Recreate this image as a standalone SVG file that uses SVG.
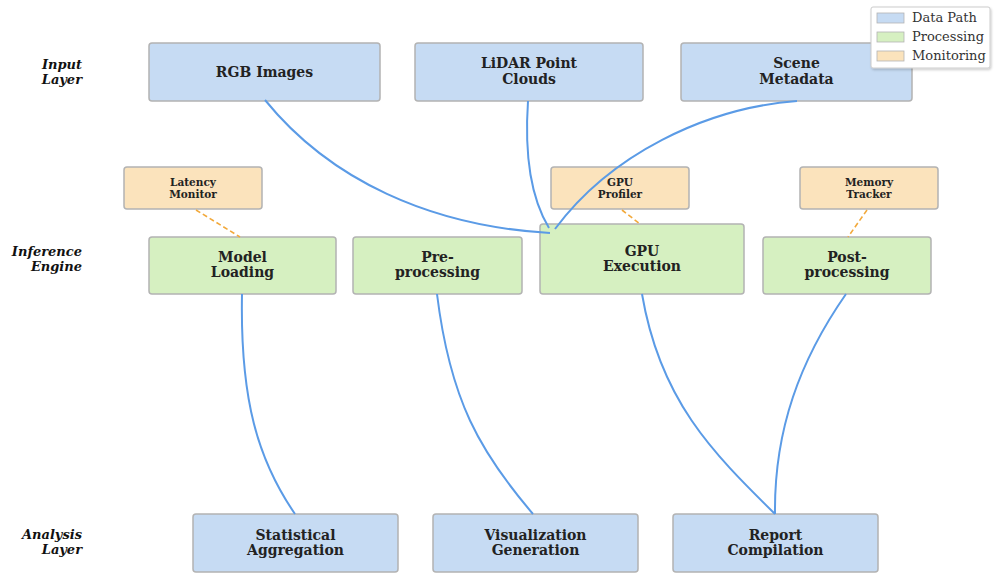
<svg xmlns="http://www.w3.org/2000/svg" width="997" height="573" viewBox="0 0 997 573">
<defs>
<style>
.bg{fill:#ffffff}
.box{stroke:#b3b3b3;stroke-width:1.5}
.data{fill:#c6dbf3}
.proc{fill:#d6f0c1}
.mon{fill:#fbe3bc}
.t{font-family:"DejaVu Serif","Liberation Serif",serif;font-weight:bold;font-size:14px;fill:#222;text-anchor:middle}
.ts{font-family:"DejaVu Serif","Liberation Serif",serif;font-weight:bold;font-size:10.5px;fill:#222;text-anchor:middle}
.lay{font-family:"DejaVu Serif","Liberation Serif",serif;font-weight:bold;font-style:italic;font-size:13px;fill:#111;text-anchor:end}
.leg{font-family:"DejaVu Serif","Liberation Serif",serif;font-size:13px;fill:#333}
.flow{fill:none;stroke:#5b9be6;stroke-width:2}
.dash{fill:none;stroke:#f2a93b;stroke-width:1.6;stroke-dasharray:5,3}
</style>
<filter id="sh" x="-10%" y="-10%" width="130%" height="140%"><feDropShadow dx="1" dy="1.5" stdDeviation="1.2" flood-color="#000" flood-opacity="0.2"/></filter>
</defs>
<rect class="bg" x="0" y="0" width="997" height="573"/>

<g id="layer-labels">
<text class="lay" x="82" y="69">Input</text>
<text class="lay" x="82" y="84">Layer</text>
<text class="lay" x="82" y="256">Inference</text>
<text class="lay" x="82" y="271">Engine</text>
<text class="lay" x="82" y="539">Analysis</text>
<text class="lay" x="82" y="554">Layer</text>
</g>

<g id="rgb"><rect class="box data" x="149" y="43" width="231" height="58" rx="3"/><text class="t" x="264.5" y="77">RGB Images</text></g>
<g id="lidar"><rect class="box data" x="415" y="43" width="228" height="58" rx="3"/><text class="t" x="529" y="68">LiDAR Point</text><text class="t" x="529" y="84">Clouds</text></g>
<g id="scene"><rect class="box data" x="681" y="43" width="231" height="58" rx="3"/><text class="t" x="796.5" y="68">Scene</text><text class="t" x="796.5" y="84">Metadata</text></g>

<g id="latency"><rect class="box mon" x="124" y="167" width="138" height="42" rx="3"/><text class="ts" x="193" y="186">Latency</text><text class="ts" x="193" y="198">Monitor</text></g>
<g id="profiler"><rect class="box mon" x="551" y="167" width="138" height="42" rx="3"/><text class="ts" x="620" y="186">GPU</text><text class="ts" x="620" y="198">Profiler</text></g>
<g id="memory"><rect class="box mon" x="800" y="167" width="138" height="42" rx="3"/><text class="ts" x="869" y="186">Memory</text><text class="ts" x="869" y="198">Tracker</text></g>

<g id="model"><rect class="box proc" x="149" y="237" width="187" height="57" rx="3"/><text class="t" x="242.5" y="262">Model</text><text class="t" x="242.5" y="277">Loading</text></g>
<g id="pre"><rect class="box proc" x="353" y="237" width="169" height="57" rx="3"/><text class="t" x="437.5" y="262">Pre-</text><text class="t" x="437.5" y="277">processing</text></g>
<g id="gpu"><rect class="box proc" x="540" y="224" width="204" height="70" rx="3"/><text class="t" x="642" y="256">GPU</text><text class="t" x="642" y="271">Execution</text></g>
<g id="post"><rect class="box proc" x="763" y="237" width="168" height="57" rx="3"/><text class="t" x="847" y="262">Post-</text><text class="t" x="847" y="277">processing</text></g>

<g id="stat"><rect class="box data" x="193" y="514" width="205" height="58" rx="3"/><text class="t" x="295.5" y="540">Statistical</text><text class="t" x="295.5" y="555">Aggregation</text></g>
<g id="vis"><rect class="box data" x="433" y="514" width="205" height="58" rx="3"/><text class="t" x="535.5" y="540">Visualization</text><text class="t" x="535.5" y="555">Generation</text></g>
<g id="report"><rect class="box data" x="673" y="514" width="205" height="58" rx="3"/><text class="t" x="775.5" y="540">Report</text><text class="t" x="775.5" y="555">Compilation</text></g>

<g id="connectors">
<path class="flow" d="M265,100 C330,180 430,226 550,233"/>
<path class="flow" d="M528,101 C524,160 532,200 549,228"/>
<path class="flow" d="M797,101 C705,108 610,155 555,229"/>
<path class="flow" d="M242,294 C240,400 258,460 295,514"/>
<path class="flow" d="M437,294 C450,400 480,452 533,514"/>
<path class="flow" d="M642,294 C660,400 712,452 775,514"/>
<path class="flow" d="M846,294 C800,360 774,430 775,514"/>
<path class="dash" d="M196,210 L240,237"/>
<path class="dash" d="M622,210 L640,224"/>
<path class="dash" d="M867,210 L848,237"/>
</g>

<g id="legend">
<rect x="871" y="7" width="119" height="61" rx="2" fill="#ffffff" stroke="#cccccc" stroke-width="1" filter="url(#sh)"/>
<rect x="877" y="13" width="27" height="10" class="data" stroke="#b3b3b3" stroke-width="0.8"/>
<text class="leg" x="912" y="22">Data Path</text>
<rect x="877" y="32" width="27" height="10" class="proc" stroke="#b3b3b3" stroke-width="0.8"/>
<text class="leg" x="912" y="41">Processing</text>
<rect x="877" y="51" width="27" height="10" class="mon" stroke="#b3b3b3" stroke-width="0.8"/>
<text class="leg" x="912" y="60">Monitoring</text>
</g>
</svg>
